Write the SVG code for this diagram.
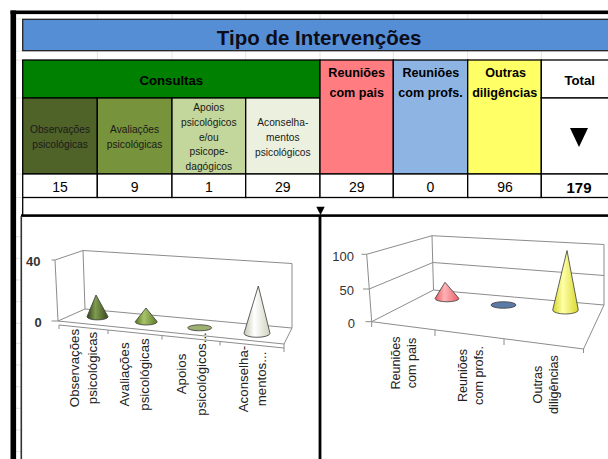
<svg xmlns="http://www.w3.org/2000/svg" width="608" height="459" viewBox="0 0 608 459">
<defs>
<style>
text{font-family:"Liberation Sans",Arial,sans-serif;fill:#000}
.t{font-size:20.5px;font-weight:bold;fill:#0d0d1a}
.h{font-size:12.6px;font-weight:bold}
.s{font-size:10.2px;fill:#1a1a1a}
.n{font-size:14px}
.c1{font-size:13.3px;fill:#222}
.c2{font-size:12.6px;fill:#222}
.ax{font-size:13px;fill:#333}
.grid{stroke:#e3e3e3;stroke-width:1;fill:none}
.cell{stroke:#000;stroke-width:1.3}
.wall{fill:none;stroke:#8c8c8c;stroke-width:1}
.cone{stroke:#3a3a3a;stroke-width:0.8}
</style>
<linearGradient id="gObs" x1="0" y1="0" x2="1" y2="0"><stop offset="0" stop-color="#33421a"/><stop offset="0.4" stop-color="#7f9c50"/><stop offset="1" stop-color="#3a4a1e"/></linearGradient>
<linearGradient id="gAval" x1="0" y1="0" x2="1" y2="0"><stop offset="0" stop-color="#5a7426"/><stop offset="0.4" stop-color="#a8c468"/><stop offset="1" stop-color="#5f7a2a"/></linearGradient>
<linearGradient id="gAc" x1="0" y1="0" x2="1" y2="0"><stop offset="0" stop-color="#c4c8b2"/><stop offset="0.4" stop-color="#ffffff"/><stop offset="1" stop-color="#cfd3bd"/></linearGradient>
<linearGradient id="gPk" x1="0" y1="0" x2="1" y2="0"><stop offset="0" stop-color="#e45a64"/><stop offset="0.4" stop-color="#ffb2b5"/><stop offset="1" stop-color="#e8606a"/></linearGradient>
<linearGradient id="gYe" x1="0" y1="0" x2="1" y2="0"><stop offset="0" stop-color="#d6d62c"/><stop offset="0.4" stop-color="#ffffa8"/><stop offset="1" stop-color="#d8d830"/></linearGradient>
</defs>
<rect x="0" y="0" width="608" height="459" fill="#ffffff"/>

<!-- faint sheet gridlines -->
<g class="grid">
<path d="M97.3,14V19M172,14V19M245.7,14V19M320,14V19M393.3,14V19M467.7,14V19M541.3,14V19"/>
<path d="M97.3,51V60M172,51V60M245.7,51V60M320,51V60M393.3,51V60M467.7,51V60M541.3,51V60"/>
<path d="M16,236.7H21M16,258.3H21M16,280H21M16,301.7H21M16,323.3H21M16,343.3H21M16,365H21M16,386.7H21M16,408.3H21M16,430H21M16,451.7H21"/>
<path d="M16,19H22M16,51H22M16,60H22M16,98H22M16,174H22M16,197.5H22"/>
</g>

<!-- outer black frame -->
<rect x="10.5" y="10.5" width="597.5" height="3.6" fill="#000"/>
<rect x="10.5" y="10.5" width="5.6" height="448.5" fill="#000"/>

<g id="title">
<rect x="22.7" y="19.3" width="590" height="31.4" fill="#558ED5" stroke="#222" stroke-width="1.3"/>
<text class="t" x="319.2" y="45" text-anchor="middle">Tipo de Intervenções</text>
</g>

<g id="consultas">
<rect class="cell" x="22.7" y="60" width="297.3" height="38" fill="#008000"/>
<text class="h" style="font-size:13.2px" x="171.3" y="84.5" text-anchor="middle">Consultas</text>
</g>

<g id="observacoes">
<rect class="cell" x="22.7" y="98" width="74.6" height="76" fill="#4F6228"/>
<text class="s" text-anchor="middle"><tspan x="60" y="132.7">Observações</tspan><tspan x="60" y="148.4">psicológicas</tspan></text>
</g>
<g id="avaliacoes">
<rect class="cell" x="97.3" y="98" width="74.7" height="76" fill="#77933C"/>
<text class="s" text-anchor="middle"><tspan x="134.6" y="132.7">Avaliações</tspan><tspan x="134.6" y="148.4">psicológicas</tspan></text>
</g>
<g id="apoios">
<rect class="cell" x="172" y="98" width="73.7" height="76" fill="#C3D69B"/>
<text class="s" text-anchor="middle"><tspan x="208.8" y="110.7">Apoios</tspan><tspan x="208.8" y="125.6">psicológicos</tspan><tspan x="208.8" y="140.5">e/ou</tspan><tspan x="208.8" y="155.4">psicope-</tspan><tspan x="208.8" y="170.3">dagógicos</tspan></text>
</g>
<g id="aconselhamentos">
<rect class="cell" x="245.7" y="98" width="74.3" height="76" fill="#EBF1DE"/>
<text class="s" text-anchor="middle"><tspan x="282.8" y="125.5">Aconselha-</tspan><tspan x="282.8" y="140.7">mentos</tspan><tspan x="282.8" y="156.1">psicológicos</tspan></text>
</g>
<g id="reunioes-pais">
<rect class="cell" x="320" y="60" width="73.3" height="114" fill="#FF7C80"/>
<text class="h" text-anchor="middle"><tspan x="356.7" y="76.5">Reuniões</tspan><tspan x="356.7" y="96.5">com pais</tspan></text>
</g>
<g id="reunioes-profs">
<rect class="cell" x="393.3" y="60" width="74.4" height="114" fill="#8DB4E2"/>
<text class="h" text-anchor="middle"><tspan x="430.8" y="76.5">Reuniões</tspan><tspan x="430.5" y="96.5">com profs.</tspan></text>
</g>
<g id="outras">
<rect class="cell" x="467.7" y="60" width="73.6" height="114" fill="#FFFF66"/>
<text class="h" text-anchor="middle"><tspan x="505.6" y="76.5">Outras</tspan><tspan x="504.7" y="96.5">diligências</tspan></text>
</g>
<g id="total">
<rect class="cell" x="541.3" y="60" width="80" height="38" fill="#fff"/>
<text class="h" style="font-size:13.2px" x="579.7" y="85" text-anchor="middle">Total</text>
<rect class="cell" x="541.3" y="98" width="80" height="76" fill="#fff"/>
<polygon points="570,128 588,128 579,147" fill="#000"/>
</g>

<g id="valores">
<rect class="cell" x="22.7" y="174" width="74.6" height="23.5" fill="#fff"/>
<rect class="cell" x="97.3" y="174" width="74.7" height="23.5" fill="#fff"/>
<rect class="cell" x="172" y="174" width="73.7" height="23.5" fill="#fff"/>
<rect class="cell" x="245.7" y="174" width="74.3" height="23.5" fill="#fff"/>
<rect class="cell" x="320" y="174" width="73.3" height="23.5" fill="#fff"/>
<rect class="cell" x="393.3" y="174" width="74.4" height="23.5" fill="#fff"/>
<rect class="cell" x="467.7" y="174" width="73.6" height="23.5" fill="#fff"/>
<rect class="cell" x="541.3" y="174" width="80" height="23.5" fill="#fff"/>
<text class="n" y="192" text-anchor="middle"><tspan x="60">15</tspan></text>
<text class="n" x="134.6" y="192" text-anchor="middle">9</text>
<text class="n" x="208.8" y="192" text-anchor="middle">1</text>
<text class="n" x="282.8" y="192" text-anchor="middle">29</text>
<text class="n" x="356.7" y="192" text-anchor="middle">29</text>
<text class="n" x="430.5" y="192" text-anchor="middle">0</text>
<text class="n" x="505" y="192" text-anchor="middle">96</text>
<text x="579" y="193" text-anchor="middle" style="font-size:15px;font-weight:bold">179</text>
</g>

<!-- band and dividers -->
<line x1="22.7" y1="197.5" x2="22.7" y2="215" stroke="#000" stroke-width="1.3"/>
<rect x="21" y="214.3" width="587" height="2.6" fill="#000"/>
<polygon points="316.3,206.8 324.7,206.8 320.5,215" fill="#000"/>
<rect x="318.6" y="215" width="2.8" height="244" fill="#000"/>
<line x1="21.3" y1="216" x2="21.3" y2="459" stroke="#333" stroke-width="1.6"/>

<g id="grafico-consultas">
<path class="wall" d="M55,260L58,321M55,260L83,250.5M83,250.5L85,309M58,321L85,309M83,250.5L292,263.5M292,263.5L292,328M85,309L292,328M58,321L284,344M292,328L284,344M59,325L284,348M284,344L284,352M51.5,260H55M51.5,321H58M59,325V329M108,330V334M162,335.5V339.5M220,341.5V345.5"/>
<text class="ax" style="font-weight:bold" x="40.5" y="265.5" text-anchor="end">40</text>
<text class="ax" style="font-weight:bold" x="41.7" y="327" text-anchor="end">0</text>
<path class="cone" fill="url(#gObs)" d="M96,295L87,316.7A10.5,3.2 0 0 0 108,316.7Z"/>
<path class="cone" fill="url(#gAval)" d="M146,308L135.2,321.7A11,3.3 0 0 0 157.2,321.7Z"/>
<ellipse class="cone" cx="199.7" cy="327.8" rx="12" ry="3" fill="#9cb070"/>
<path class="cone" fill="url(#gAc)" d="M258.3,286L244,333.3A13,4 0 0 0 270,333.3Z"/>
<text class="c1" text-anchor="middle" transform="translate(79.2,368) rotate(-90)">Observações</text>
<text class="c1" text-anchor="middle" transform="translate(97.3,368) rotate(-90)">psicológicas</text>
<text class="c1" text-anchor="middle" transform="translate(129,374.5) rotate(-90)">Avaliações</text>
<text class="c1" text-anchor="middle" transform="translate(149,374.5) rotate(-90)">psicológicas</text>
<text class="c1" text-anchor="middle" transform="translate(185.8,374) rotate(-90)">Apoios</text>
<text class="c1" text-anchor="middle" transform="translate(205.8,374) rotate(-90)">psicológicos...</text>
<text class="c1" text-anchor="middle" transform="translate(247.5,379) rotate(-90)">Aconselha-</text>
<text class="c1" text-anchor="middle" transform="translate(266,379) rotate(-90)">mentos...</text>
</g>

<g id="grafico-reunioes">
<path class="wall" d="M366.7,254.3L371.7,321.7M366.7,254.3L432,235.7M432,235.7L433.5,290M371.7,321.7L433.5,290M369.2,289L433,262.5M432,235.7L604,244.5M433,262.5L604,275.5M433.5,290L604,305M604,244.5L604,305M371.7,321.7L583.5,349M604,305L583.5,349M583.5,349V353M361.5,254.3H366.7M363,289H369.2M365.5,321.7H371.7M371.7,321.7V327M435,330V336M504,339V345"/>
<text class="ax" x="354" y="260.5" text-anchor="end">100</text>
<text class="ax" x="354" y="295" text-anchor="end">50</text>
<text class="ax" x="355" y="327.5" text-anchor="end">0</text>
<path class="cone" fill="url(#gPk)" d="M445,282.3L435,298.5A12,3.3 0 0 0 459,298.5Z"/>
<ellipse class="cone" cx="503.5" cy="305" rx="12.5" ry="3.3" fill="#5a7aa5"/>
<path class="cone" fill="url(#gYe)" d="M567,250.5L552.7,310A12.8,4 0 0 0 578.3,310Z"/>
<text class="c2" text-anchor="middle" transform="translate(399.5,363) rotate(-90)">Reuniões</text>
<text class="c2" text-anchor="middle" transform="translate(416,363) rotate(-90)">com pais</text>
<text class="c2" text-anchor="middle" transform="translate(466.5,375.5) rotate(-90)">Reuniões</text>
<text class="c2" text-anchor="middle" transform="translate(482.5,375.5) rotate(-90)">com profs.</text>
<text class="c2" text-anchor="middle" transform="translate(541.5,384.5) rotate(-90)">Outras</text>
<text class="c2" text-anchor="middle" transform="translate(557.5,384.5) rotate(-90)">diligências</text>
</g>
</svg>
